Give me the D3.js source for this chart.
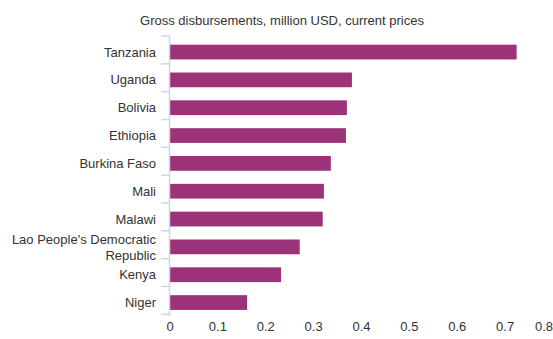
<!DOCTYPE html>
<html><head><meta charset="utf-8">
<script src="https://cdn.jsdelivr.net/npm/d3@7"></script>
<style>body{margin:0;background:#fff}svg{display:block}text{font-family:"Liberation Sans",Arial,sans-serif}</style>
</head><body>
<script>
const categories = ["Tanzania","Uganda","Bolivia","Ethiopia","Burkina Faso","Mali","Malawi","Lao People's Democratic Republic","Kenya","Niger"];
const values = [0.724, 0.380, 0.3695, 0.3675, 0.336, 0.3215, 0.319, 0.271, 0.232, 0.161];
const xTicks = [0, 0.1, 0.2, 0.3, 0.4, 0.5, 0.6, 0.7, 0.8];
const title = "Gross disbursements, million USD, current prices";

const W = 553, H = 339;
const svg = d3.select("body").append("svg").attr("width", W).attr("height", H);
const x = d3.scaleLinear().domain([0, 0.8]).range([170, 553]);
const y = d3.scaleBand().domain(categories).range([36, 316]).paddingInner(0.47).paddingOuter(0.265);

svg.append("text").attr("x", 282).attr("y", 25).attr("text-anchor", "middle")
  .attr("font-size", 13).attr("fill", "#333").text(title);

svg.append("g").selectAll("rect").data(categories).join("rect")
  .attr("x", x(0)).attr("y", d => y(d) + 1.3).attr("height", y.bandwidth())
  .attr("width", (d, i) => x(values[i]) - x(0)).attr("fill", "#9C3379");

// category axis line and ticks between categories
const step = y.step();
const ax = svg.append("g");
ax.append("line").attr("x1", 169.5).attr("x2", 169.5).attr("y1", 36).attr("y2", 316)
  .attr("stroke", "#ccd6eb").attr("stroke-width", 1.5);
const bounds = d3.range(categories.length + 1).map(i => 36 + i * step);
ax.selectAll("line.t").data(bounds).join("line").attr("class", "t")
  .attr("x1", 161).attr("x2", 170).attr("y1", d => d).attr("y2", d => d)
  .attr("stroke", "#ccd6eb").attr("stroke-width", 1.5);

// category labels
const lab = svg.append("g").attr("font-size", 13).attr("fill", "#333").attr("text-anchor", "end");
categories.forEach((c, i) => {
  const cy = y(c) + y.bandwidth() / 2 + 1.3;
  if (c.length > 25) {
    const t = lab.append("text").attr("x", 156).attr("y", cy);
    t.append("tspan").attr("x", 156).attr("dy", "-0.25em").text("Lao People's Democratic");
    t.append("tspan").attr("x", 156).attr("dy", "1.23em").text("Republic");
  } else {
    lab.append("text").attr("x", 156).attr("y", cy).attr("dy", "0.35em").text(c);
  }
});

// x axis labels
svg.append("g").attr("font-size", 13).attr("fill", "#333").selectAll("text").data(xTicks).join("text")
  .attr("x", d => d === 0.8 ? 553 : x(d)).attr("text-anchor", d => d === 0.8 ? "end" : "middle")
  .attr("y", 331).text(d => d3.format("")(d));
</script>
</body></html>
